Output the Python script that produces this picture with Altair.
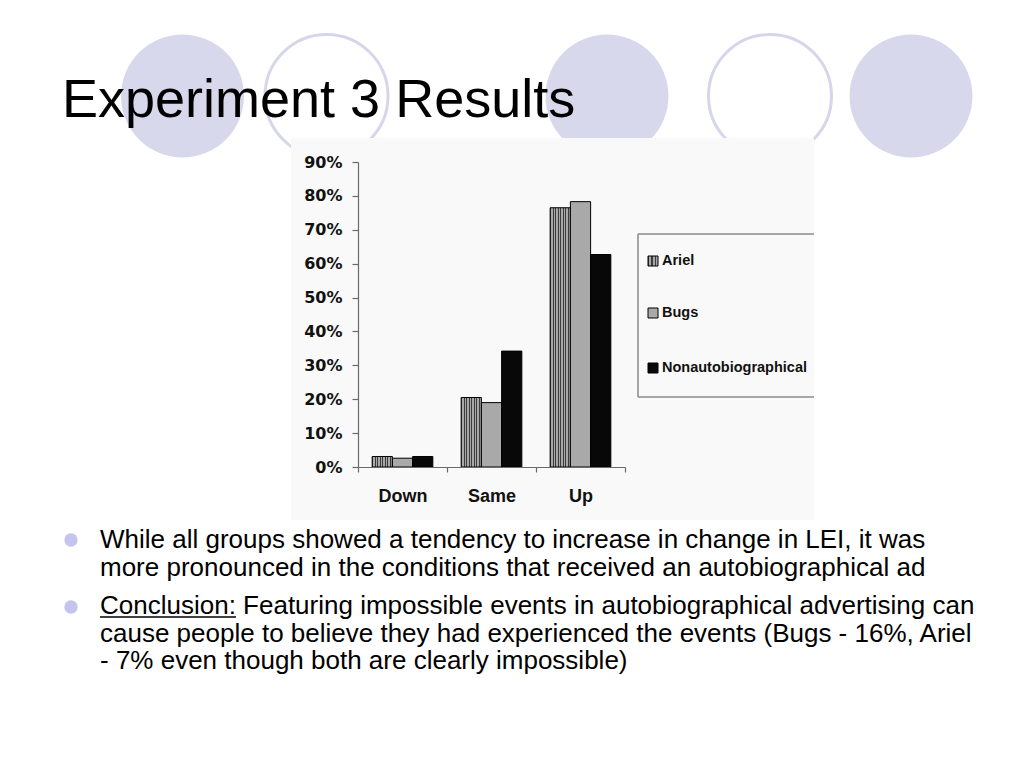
import altair as alt
import pandas as pd

# ---------------- data ----------------
CATEGORIES = ["Down", "Same", "Up"]
SERIES = ["Ariel", "Bugs", "Nonautobiographical"]
ARIEL = [0.031, 0.205, 0.765]
BUGS = [0.026, 0.190, 0.783]
NONAUTO = [0.031, 0.342, 0.627]
Y_TICKS = [0.0, 0.1, 0.2, 0.3, 0.4, 0.5, 0.6, 0.7, 0.8, 0.9]

TITLE = "Experiment 3 Results"
BULLET_1 = [
    "While all groups showed a tendency to increase in change in LEI, it was",
    "more pronounced in the conditions that received an autobiographical ad",
]
BULLET_2 = [
    "Conclusion: Featuring impossible events in autobiographical advertising can",
    "cause people to believe they had experienced the events (Bugs - 16%, Ariel",
    "- 7% even though both are clearly impossible)",
]

rows = []
for s, vals in zip(SERIES, [ARIEL, BUGS, NONAUTO]):
    for c, v in zip(CATEGORIES, vals):
        rows.append({"category": c, "series": s, "value": v})
df = pd.DataFrame(rows)

# ---------------- layout helpers (page pixels -> chart pixels) ----------------
OX, OY = 358, 162
def px(x):
    return x - OX
def py(y):
    return y - OY

one = pd.DataFrame({"k": [0]})


def stripes(n, dark="#3c3c3c", light="#a8a8a8", frac=0.45):
    stops = []
    for i in range(n):
        a = i / n
        b = (i + frac) / n
        c = (i + 1) / n
        stops += [
            {"offset": a, "color": dark},
            {"offset": b, "color": dark},
            {"offset": b, "color": light},
            {"offset": c, "color": light},
        ]
    return {"gradient": "linear", "x1": 0, "x2": 1, "y1": 0, "y2": 0, "stops": stops}


FILL_ARIEL = stripes(8)
FILL_BUGS = "#a9a9a9"
FILL_NON = "#080808"

layers = []

# decorative slide circles
CIRCLE_FILL = "#d8d8ec"
for cx, filled in [(182.5, True), (326.5, False), (607, True), (770, False), (911, True)]:
    if filled:
        m = alt.Chart(one).mark_circle(size=123 * 123, color=CIRCLE_FILL, opacity=1)
    else:
        m = alt.Chart(one).mark_point(shape="circle", size=123 * 123, filled=False,
                                      stroke="#d6d6ea", strokeWidth=3, opacity=1)
    layers.append(m.encode(x=alt.value(px(cx)), y=alt.value(py(96))))

# title
layers.append(
    alt.Chart(one).mark_text(text=TITLE, font="Liberation Sans", fontSize=54, align="left",
                             baseline="alphabetic", color="#000000")
    .encode(x=alt.value(px(62)), y=alt.value(py(117)))
)

# chart picture background
layers.append(
    alt.Chart(one).mark_rect(color="#f9f9f9")
    .encode(x=alt.value(px(291)), x2=alt.value(px(814)), y=alt.value(py(138)), y2=alt.value(py(520)))
)

# bars
fill_enc = (
    alt.when(alt.datum.series == SERIES[0]).then(alt.value(FILL_ARIEL))
    .when(alt.datum.series == SERIES[1]).then(alt.value(FILL_BUGS))
    .otherwise(alt.value(FILL_NON))
)
bars = alt.Chart(df).mark_bar(stroke="#000000", strokeWidth=1).encode(
    x=alt.X("category:N", sort=CATEGORIES, scale=alt.Scale(paddingInner=0, paddingOuter=0),
            axis=alt.Axis(title=None, labelAngle=0, tickBand="extent", tickSize=5, labelPadding=15,
                          labelFont="Liberation Sans", labelFontSize=18, labelFontWeight="bold",
                          labelColor="#111111", domainColor="#6a6a6a", tickColor="#6a6a6a",
                          domainWidth=1.2, tickWidth=1.2, zindex=1)),
    xOffset=alt.XOffset("series:N", sort=SERIES,
                        scale=alt.Scale(domain=SERIES, paddingInner=0, paddingOuter=0.7)),
    y=alt.Y("value:Q", scale=alt.Scale(domain=[0, 0.9]),
            axis=alt.Axis(title=None, values=Y_TICKS, format=".0%", tickSize=6, labelPadding=10,
                          labelFont="DejaVu Sans", labelFontSize=16, labelFontWeight="bold",
                          labelColor="#111111", domainColor="#6a6a6a", tickColor="#6a6a6a",
                          domainWidth=1.2, tickWidth=1.2, grid=False, zindex=1)),
    fill=fill_enc,
)
layers.append(bars)

# legend box (right edge cut off by the picture border)
LB_L, LB_T, LB_B, LB_R = 638, 234, 397, 814
for (x1, x2, y1, y2) in [(LB_L, LB_R, LB_T, LB_T), (LB_L, LB_R, LB_B, LB_B), (LB_L, LB_L, LB_T, LB_B)]:
    enc = dict(x=alt.value(px(x1)), y=alt.value(py(y1)))
    if x1 != x2:
        enc["x2"] = alt.value(px(x2))
    if y1 != y2:
        enc["y2"] = alt.value(py(y2))
    layers.append(alt.Chart(one).mark_rule(color="#8a8a8a", strokeWidth=1.5).encode(**enc))

LEG_Y = [261, 313, 368]
for s, f, ly in zip(SERIES, [stripes(3), FILL_BUGS, FILL_NON], LEG_Y):
    layers.append(
        alt.Chart(one).mark_rect(fill=f, stroke="#000000", strokeWidth=1)
        .encode(x=alt.value(px(648)), x2=alt.value(px(658)), y=alt.value(py(ly - 5)), y2=alt.value(py(ly + 5)))
    )
    layers.append(
        alt.Chart(one).mark_text(text=s, font="Liberation Sans", fontSize=14.5, fontWeight="bold",
                                 align="left", baseline="middle", color="#111111")
        .encode(x=alt.value(px(662)), y=alt.value(py(ly)))
    )

# bullets
BUL_COLOR = "#c4c4ee"
for by in [540, 607]:
    layers.append(
        alt.Chart(one).mark_circle(size=180, color=BUL_COLOR, opacity=1)
        .encode(x=alt.value(px(71)), y=alt.value(py(by)))
    )
for lines, base in [(BULLET_1, 548), (BULLET_2, 614)]:
    layers.append(
        alt.Chart(one).mark_text(text=lines, font="Liberation Sans", fontSize=26, lineHeight=27.5,
                                 align="left", baseline="alphabetic", color="#000000")
        .encode(x=alt.value(px(100)), y=alt.value(py(base)))
    )
# underline of "Conclusion:"
layers.append(
    alt.Chart(one).mark_rule(color="#000000", strokeWidth=1.5)
    .encode(x=alt.value(px(100)), x2=alt.value(px(236)), y=alt.value(py(617)))
)

chart = (
    alt.layer(*layers)
    .properties(width=267, height=305, autosize=alt.AutoSizeParams(type="none"),
                padding={"left": 350, "top": 154, "right": 385, "bottom": 290},
                background="white")
    .configure_view(stroke="transparent")
)

chart.save("out.html", embed_options={"renderer": "svg", "actions": False})
